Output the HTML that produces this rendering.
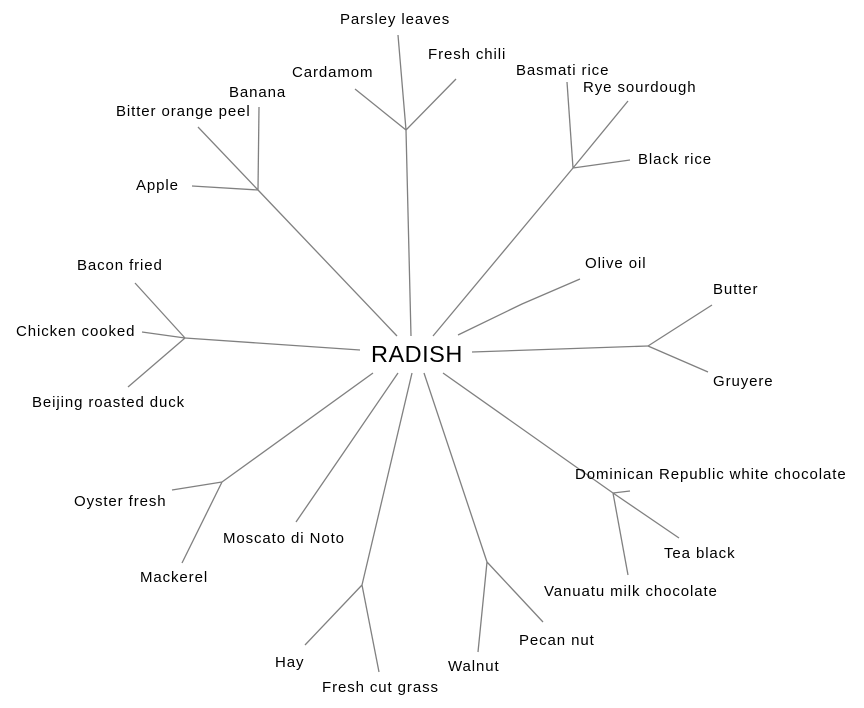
<!DOCTYPE html>
<html><head><meta charset="utf-8"><style>
html,body{margin:0;padding:0;background:#fff;width:864px;height:708px;overflow:hidden}
svg{display:block}
text{font-family:"Liberation Sans",Arial,sans-serif;font-size:15px;letter-spacing:0.9px;fill:#000}
line,polyline{stroke:#808080;stroke-width:1.3;fill:none}
</style></head><body>
<svg width="864" height="708" viewBox="0 0 864 708">
<line x1="411" y1="336" x2="406" y2="130"/>
<line x1="406" y1="130" x2="355" y2="89"/>
<line x1="406" y1="130" x2="398" y2="35"/>
<line x1="406" y1="130" x2="456" y2="79"/>
<line x1="433" y1="336" x2="573" y2="168"/>
<line x1="573" y1="168" x2="567" y2="82"/>
<line x1="573" y1="168" x2="628" y2="101"/>
<line x1="573" y1="168" x2="630" y2="160"/>
<line x1="397" y1="336" x2="258" y2="190"/>
<line x1="258" y1="190" x2="259" y2="107"/>
<line x1="258" y1="190" x2="198" y2="127"/>
<line x1="258" y1="190" x2="192" y2="186"/>
<polyline points="458,335 522,304 580,279"/>
<line x1="472" y1="352" x2="648" y2="346"/>
<line x1="648" y1="346" x2="712" y2="305"/>
<line x1="648" y1="346" x2="708" y2="372"/>
<line x1="360" y1="350" x2="185" y2="338"/>
<line x1="185" y1="338" x2="135" y2="283"/>
<line x1="185" y1="338" x2="142" y2="332"/>
<line x1="185" y1="338" x2="128" y2="387"/>
<line x1="373" y1="373" x2="222" y2="482"/>
<line x1="222" y1="482" x2="172" y2="490"/>
<line x1="222" y1="482" x2="182" y2="563"/>
<polyline points="398,373 344,452 296,522"/>
<line x1="412" y1="373" x2="362" y2="585"/>
<line x1="362" y1="585" x2="305" y2="645"/>
<line x1="362" y1="585" x2="379" y2="672"/>
<line x1="424" y1="373" x2="487" y2="562"/>
<line x1="487" y1="562" x2="478" y2="652"/>
<line x1="487" y1="562" x2="543" y2="622"/>
<line x1="443" y1="373" x2="613" y2="493"/>
<line x1="613" y1="493" x2="630" y2="491"/>
<line x1="613" y1="493" x2="679" y2="538"/>
<line x1="613" y1="493" x2="628" y2="575"/>

<text x="371" y="362" style="font-size:23.5px;letter-spacing:0.5px">RADISH</text>

<text x="340" y="24">Parsley leaves</text>
<text x="428" y="59">Fresh chili</text>
<text x="292" y="77">Cardamom</text>
<text x="516" y="75">Basmati rice</text>
<text x="583" y="92">Rye sourdough</text>
<text x="638" y="164">Black rice</text>
<text x="229" y="97">Banana</text>
<text x="116" y="116">Bitter orange peel</text>
<text x="136" y="190">Apple</text>
<text x="585" y="268">Olive oil</text>
<text x="713" y="294">Butter</text>
<text x="713" y="386">Gruyere</text>
<text x="77" y="270">Bacon fried</text>
<text x="16" y="336">Chicken cooked</text>
<text x="32" y="407">Beijing roasted duck</text>
<text x="74" y="506">Oyster fresh</text>
<text x="140" y="582">Mackerel</text>
<text x="223" y="543">Moscato di Noto</text>
<text x="275" y="667">Hay</text>
<text x="322" y="692">Fresh cut grass</text>
<text x="448" y="671">Walnut</text>
<text x="519" y="645">Pecan nut</text>
<text x="575" y="479">Dominican Republic white chocolate</text>
<text x="664" y="558">Tea black</text>
<text x="544" y="596">Vanuatu milk chocolate</text>
</svg>
</body></html>
